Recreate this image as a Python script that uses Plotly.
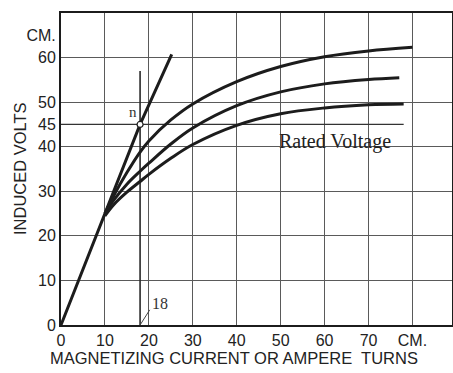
import plotly.graph_objects as go

# ---- data ----
x_tick_vals = [0, 10, 20, 30, 40, 50, 60, 70, 80]
x_tick_text = ["0", "10", "20", "30", "40", "50", "60", "70", "CM."]
y_tick_vals = [0, 10, 20, 30, 40, 50, 60]
y_tick_text = ["0", "10", "20", "30", "40", "50", "60"]
y_extra_vals = [45, 65]
y_extra_text = ["45", "CM."]

# air-gap (straight) line through the origin
air_x = [0, 10, 18, 25.2]
air_y = [0, 25, 45, 60.7]

# three saturation curves
top_x = [10, 12, 15, 18, 20, 25, 30, 40, 50, 60, 70, 80]
top_y = [25, 29, 34.2, 38.8, 41.3, 46, 49.6, 54.6, 58, 60.2, 61.5, 62.3]
mid_x = [10, 12, 15, 18, 20, 25, 30, 40, 50, 60, 70, 77]
mid_y = [25, 28, 31.6, 34.5, 36.3, 40.6, 44.2, 49.2, 52.3, 54.1, 55.1, 55.5]
bot_x = [10, 12, 15, 18, 20, 25, 30, 40, 50, 60, 70, 78]
bot_y = [24.5, 27, 29.8, 32.2, 33.8, 37.4, 40.5, 44.8, 47.4, 48.7, 49.4, 49.6]

rated_voltage = 45
rated_x = [0, 78]

n_x = 18
n_y = 45
n_line_y = [0, 57]
leader_x = [18, 20.2]
leader_y = [0, 3.4]

ink = "#1c1c1c"
grid = "#5a5a5a"
sans = "Liberation Sans, Arial, sans-serif"
serif = "Liberation Serif, Times New Roman, serif"

fig = go.Figure()

fig.add_trace(go.Scatter(x=rated_x, y=[rated_voltage] * len(rated_x), mode="lines",
                         line=dict(color="#333333", width=1.3), hoverinfo="skip"))
fig.add_trace(go.Scatter(x=[n_x, n_x], y=n_line_y, mode="lines",
                         line=dict(color="#2a2a2a", width=1.6), hoverinfo="skip"))
fig.add_trace(go.Scatter(x=leader_x, y=leader_y, mode="lines", yaxis="y2",
                         line=dict(color="#444444", width=1), hoverinfo="skip"))
fig.add_trace(go.Scatter(x=air_x, y=air_y, mode="lines",
                         line=dict(color=ink, width=3)))
for cx, cy in [(top_x, top_y), (mid_x, mid_y), (bot_x, bot_y)]:
    fig.add_trace(go.Scatter(x=cx, y=cy, mode="lines",
                             line=dict(color=ink, width=3, shape="spline", smoothing=1.0)))
fig.add_trace(go.Scatter(x=[n_x], y=[n_y], mode="markers",
                         marker=dict(size=6, color="white", line=dict(color=ink, width=1.2))))

fig.add_annotation(x=16.3, y=47.8, text="n", showarrow=False,
                   font=dict(family=serif, size=15, color="#333"))
fig.add_annotation(x=20.2, y=4.9, text="18", showarrow=False, xanchor="left",
                   font=dict(family=serif, size=16, color="#333"))
fig.add_annotation(x=62.4, y=41.2, text="Rated Voltage", showarrow=False,
                   font=dict(family=serif, size=20, color="#222"))

# axis titles
fig.add_annotation(xref="paper", yref="paper", x=0.4425, y=-0.106,
                   text="MAGNETIZING CURRENT OR AMPERE\u00a0 TURNS", showarrow=False,
                   xanchor="center", yanchor="middle",
                   font=dict(family=sans, size=16.5, color="#222"))
fig.add_annotation(xref="paper", yref="paper", x=-0.105, y=0.503,
                   text="INDUCED VOLTS", showarrow=False, textangle=-90,
                   xanchor="center", yanchor="middle",
                   font=dict(family=sans, size=16.5, color="#222"))

fig.update_layout(
    width=453, height=373,
    margin=dict(l=61, r=1, t=13, b=48, autoexpand=False),
    paper_bgcolor="white", plot_bgcolor="white",
    showlegend=False,
    xaxis=dict(range=[0, 89], tickmode="array", tickvals=x_tick_vals, ticktext=x_tick_text,
               showgrid=True, gridcolor=grid, gridwidth=1, zeroline=False,
               showline=True, linecolor=ink, linewidth=2, mirror=True, ticks="",
               automargin=False,
               tickfont=dict(family=sans, size=16, color="#222")),
    yaxis=dict(range=[0, 70], tickmode="array", tickvals=y_tick_vals, ticktext=y_tick_text,
               showgrid=True, gridcolor=grid, gridwidth=1, zeroline=False,
               showline=True, linecolor=ink, linewidth=2, mirror=True, ticks="",
               automargin=False,
               tickfont=dict(family=sans, size=16, color="#222")),
    yaxis2=dict(range=[0, 70], overlaying="y", side="left", anchor="x",
                tickmode="array", tickvals=y_extra_vals, ticktext=y_extra_text,
                showgrid=False, zeroline=False, showline=True, linecolor=ink, linewidth=2,
                ticks="", automargin=False,
                tickfont=dict(family=sans, size=16, color="#222")),
)

fig.write_html("out.html", config={"displayModeBar": False},
               post_script="document.body.style.margin='0';document.body.style.overflow='hidden';")
